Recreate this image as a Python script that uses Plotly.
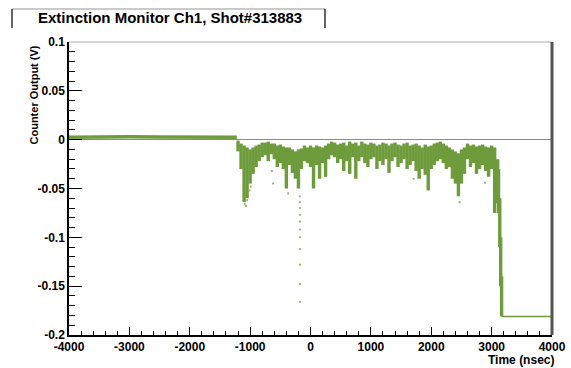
import plotly.graph_objects as go

# ---------------- data ----------------
title_text = "Extinction Monitor Ch1, Shot#313883"
x_title = "Time (nsec)"
y_title = "Counter Output (V)"

x_tick_vals = [-4000, -3000, -2000, -1000, 0, 1000, 2000, 3000, 4000]
x_tick_text = ["-4000", "-3000", "-2000", "-1000", "0", "1000", "2000", "3000", "4000"]
y_tick_vals = [0.1, 0.05, 0, -0.05, -0.1, -0.15, -0.2]
y_tick_text = ["0.1", "0.05", "0", "-0.05", "-0.1", "-0.15", "-0.2"]

# quiet period before the beam
pre_t = [-4000, -3500, -3000, -2500, -2000, -1500, -1220]
pre_v = [0.0025, 0.003, 0.003, 0.0028, 0.0026, 0.003, 0.0025]

# noisy beam period: per-50ns bin, upper and lower edge of the point cloud
band_t = [-1200, -1150, -1100, -1050, -1000, -950, -900, -850, -800, -750,
          -700, -650, -600, -550, -500, -450, -400, -350, -300, -250,
          -200, -150, -100, -50, 0, 50, 100, 150, 200, 250,
          300, 350, 400, 450, 500, 550, 600, 650, 700, 750,
          800, 850, 900, 950, 1000, 1050, 1100, 1150, 1200, 1250,
          1300, 1350, 1400, 1450, 1500, 1550, 1600, 1650, 1700, 1750,
          1800, 1850, 1900, 1950, 2000, 2050, 2100, 2150, 2200, 2250,
          2300, 2350, 2400, 2450, 2500, 2550, 2600, 2650, 2700, 2750,
          2800, 2850, 2900, 2950, 3000, 3050, 3100]
band_top = [-0.001, -0.004, -0.006, -0.008, -0.010, -0.008, -0.006, -0.005, -0.003, -0.003,
            -0.002, -0.004, -0.004, -0.006, -0.005, -0.007, -0.008, -0.008, -0.010, -0.012,
            -0.010, -0.009, -0.006, -0.008, -0.006, -0.008, -0.006, -0.007, -0.008, -0.006,
            -0.004, -0.002, -0.003, -0.005, -0.004, -0.003, -0.006, -0.002, -0.004, -0.003,
            -0.006, -0.002, -0.004, -0.005, -0.003, -0.004, -0.006, -0.005, -0.003, -0.004,
            -0.006, -0.004, -0.003, -0.005, -0.006, -0.004, -0.003, -0.006, -0.005, -0.004,
            -0.006, -0.008, -0.005, -0.007, -0.006, -0.004, -0.003, -0.002, -0.004, -0.006,
            -0.008, -0.010, -0.012, -0.014, -0.010, -0.008, -0.004, -0.006, -0.005, -0.007,
            -0.006, -0.005, -0.007, -0.008, -0.006, -0.008, -0.020]
band_bot = [-0.012, -0.030, -0.064, -0.060, -0.045, -0.035, -0.028, -0.022, -0.018, -0.016,
            -0.022, -0.015, -0.020, -0.028, -0.024, -0.030, -0.050, -0.026, -0.034, -0.040,
            -0.050, -0.030, -0.022, -0.024, -0.028, -0.050, -0.026, -0.040, -0.024, -0.038,
            -0.020, -0.016, -0.018, -0.024, -0.020, -0.032, -0.022, -0.035, -0.018, -0.040,
            -0.022, -0.018, -0.024, -0.028, -0.020, -0.018, -0.030, -0.022, -0.026, -0.020,
            -0.034, -0.022, -0.018, -0.028, -0.024, -0.020, -0.030, -0.026, -0.022, -0.032,
            -0.040, -0.030, -0.036, -0.052, -0.030, -0.026, -0.022, -0.020, -0.024, -0.030,
            -0.028, -0.040, -0.045, -0.058, -0.045, -0.035, -0.020, -0.028, -0.024, -0.035,
            -0.030, -0.026, -0.032, -0.038, -0.030, -0.075, -0.065]

# falling edge at the end of the spill
drop_t = [3115, 3135, 3150, 3165]
drop_top = [-0.030, -0.060, -0.100, -0.140]
drop_bot = [-0.075, -0.110, -0.150, -0.181]

# flat tail after the spill
tail_t = [3165, 4000]
tail_v = [-0.181, -0.181]

# sparse isolated points
out_t = [-1090, -1070, -1050, -1010, -990, -640, -620, -370,
         -178, -176, -174, -172, -177, -175, -173, -176, -174, -175, -173,
         1710, 2470, 2890]
out_v = [-0.066, -0.068, -0.062, -0.052, -0.048, -0.032, -0.045, -0.055,
         -0.058, -0.064, -0.070, -0.077, -0.084, -0.092, -0.100, -0.112, -0.128, -0.148, -0.166,
         -0.040, -0.064, -0.044]

# ---------------- figure ----------------
GREEN = "#6e9b3c"

seg_x, seg_y = [], []
for t, a, b in zip(band_t + drop_t, band_top + drop_top, band_bot + drop_bot):
    seg_x += [t, t, None]
    seg_y += [a, b, None]

fig = go.Figure()
fig.add_trace(go.Scatter(x=pre_t, y=pre_v, mode="lines",
                         line=dict(color=GREEN, width=3.5), hoverinfo="skip"))
fig.add_trace(go.Scatter(x=seg_x, y=seg_y, mode="lines",
                         line=dict(color=GREEN, width=3.4), hoverinfo="skip"))
fig.add_trace(go.Scatter(x=tail_t, y=tail_v, mode="lines",
                         line=dict(color=GREEN, width=1.5), hoverinfo="skip"))
fig.add_trace(go.Scatter(x=out_t, y=out_v, mode="markers",
                         marker=dict(color="#8fb46a", size=2.2), hoverinfo="skip"))

L, R, T, B = 69, 552, 42, 335
W, H = 571, 368
pw, ph = R - L, B - T


def px(x):
    return (x - L) / pw


def py(y):
    return (B - y) / ph


font = dict(family="Liberation Sans, Arial, sans-serif", size=12, color="black", weight="bold")

fig.update_layout(
    width=W, height=H,
    margin=dict(l=L, r=W - R, t=T, b=H - B),
    paper_bgcolor="white", plot_bgcolor="white",
    showlegend=False,
    font=font,
    xaxis=dict(range=[-4000, 4000], tickvals=x_tick_vals, ticktext=x_tick_text,
               ticks="inside", ticklen=8, tickwidth=1, tickcolor="black",
               minor=dict(dtick=200, ticks="inside", ticklen=4, tickcolor="black"),
               showline=True, linecolor="black", linewidth=1.5, automargin=False,
               showgrid=False, zeroline=False, tickfont=font),
    yaxis=dict(range=[-0.2, 0.1], tickvals=y_tick_vals, ticktext=y_tick_text,
               ticks="inside", ticklen=13, tickwidth=1, tickcolor="black",
               minor=dict(dtick=0.01, ticks="inside", ticklen=6, tickcolor="black"),
               showline=True, linecolor="black", linewidth=1.5, automargin=False,
               showgrid=False, zeroline=True, zerolinecolor="#8a8a8a", zerolinewidth=1,
               tickfont=font),
)

shapes = [
    # frame top and right (shadow)
    dict(type="line", xref="paper", yref="paper", x0=0, x1=1, y0=1, y1=1,
         line=dict(color="#c8c8c8", width=1.5)),
    dict(type="line", xref="paper", yref="paper", x0=1, x1=1, y0=0, y1=1,
         line=dict(color="#555555", width=3)),
    # title box
    dict(type="line", xref="paper", yref="paper", x0=px(12), x1=px(325), y0=py(9), y1=py(9),
         line=dict(color="#b8b8b8", width=1.5)),
    dict(type="line", xref="paper", yref="paper", x0=px(12), x1=px(12), y0=py(9), y1=py(28),
         line=dict(color="#333333", width=1.5)),
    dict(type="line", xref="paper", yref="paper", x0=px(325), x1=px(325), y0=py(9), y1=py(28),
         line=dict(color="#333333", width=1.5)),
]
fig.update_layout(shapes=shapes)

fig.add_annotation(text=title_text, xref="paper", yref="paper", x=px(170), y=py(18),
                   xanchor="center", yanchor="middle", showarrow=False,
                   font=dict(family=font["family"], size=15, color="black", weight="bold"))
fig.add_annotation(text=y_title, xref="paper", yref="paper", x=px(33), y=py(44),
                   xanchor="center", yanchor="top", textangle=-90, showarrow=False,
                   font=dict(family=font["family"], size=11, color="black", weight="bold"))
fig.add_annotation(text=x_title, xref="paper", yref="paper", x=px(556), y=py(360),
                   xanchor="right", yanchor="middle", showarrow=False,
                   font=dict(family=font["family"], size=12, color="black", weight="bold"))

fig.write_html("out.html")
